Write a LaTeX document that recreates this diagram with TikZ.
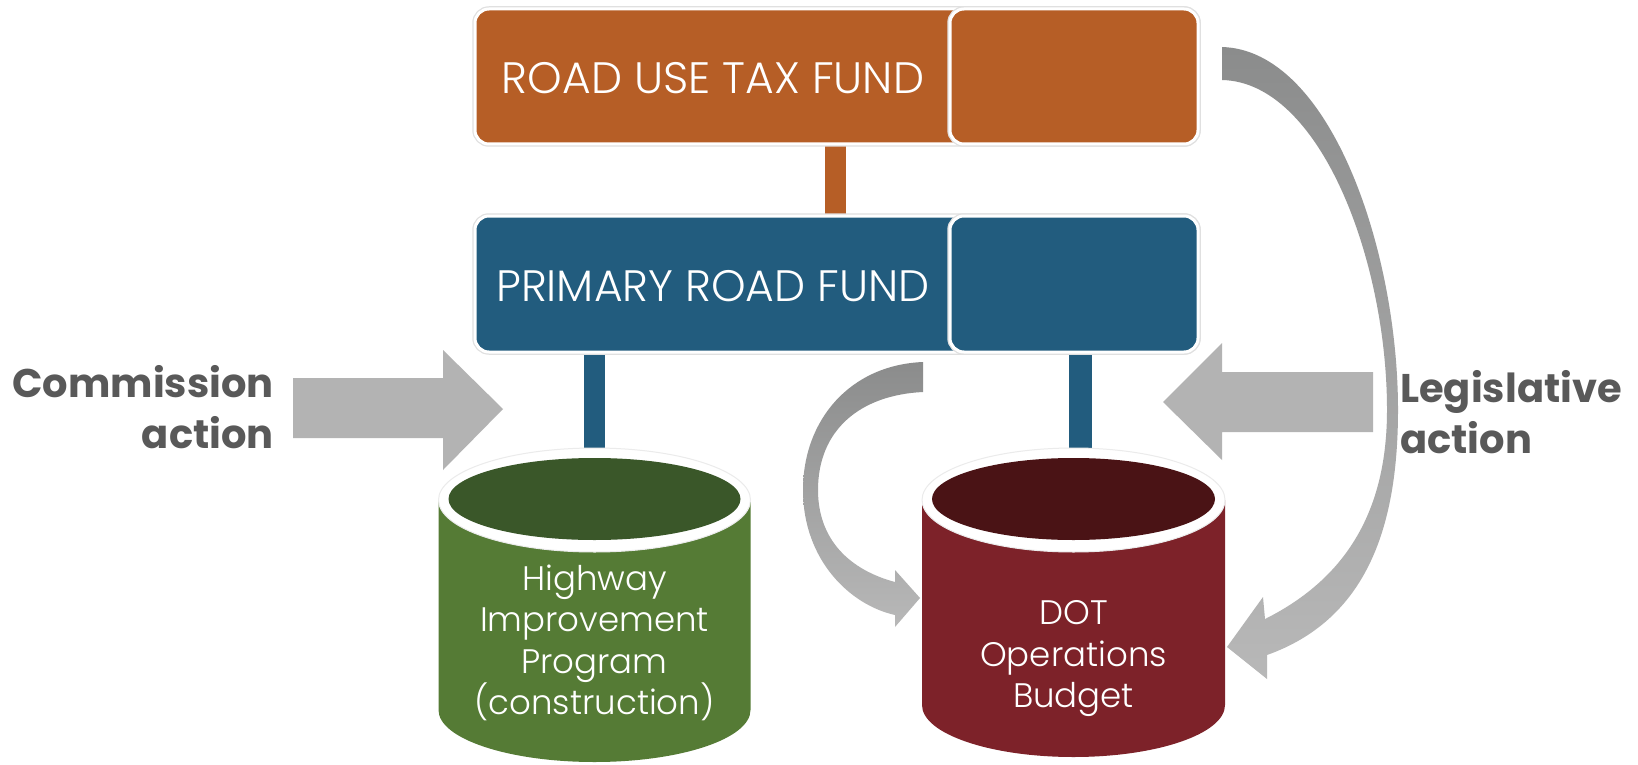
\documentclass[tikz,border=0pt]{standalone}
\usepackage{fontspec}
\setmainfont{Poppins}
\newfontfamily\lightfont{Poppins}[UprightFont=* Light]
\definecolor{rutOrange}{HTML}{B65E26}
\definecolor{prfBlue}{HTML}{225C7E}
\definecolor{hipGreen}{HTML}{557B35}
\definecolor{hipTopc}{HTML}{3A5729}
\definecolor{dotRed}{HTML}{7D2229}
\definecolor{dotTopc}{HTML}{4A1315}
\definecolor{arrGray}{HTML}{B3B3B3}
\definecolor{arrDark}{HTML}{8B8C8C}
\definecolor{arrLight}{HTML}{B8B8B8}
\definecolor{lblGray}{HTML}{595959}
\tikzset{
  fundbox/.style={rounded corners=14pt, draw=white, line width=3pt, inner sep=0pt,
    preaction={draw=black!12, line width=5.5pt}},
  boxtext/.style={text=white, font=\lightfont\fontsize{44}{50}\selectfont, inner sep=0pt},
  cyltext/.style={text=white, align=center, font=\lightfont\fontsize{34}{41.5}\selectfont, inner sep=0pt},
  lbl/.style={text=lblGray, font=\bfseries\fontsize{40}{50.5}\selectfont, inner sep=0pt},
  conn/.style={line width=21pt},
  blockarrow/.style={fill=arrGray},
  curvearrow/.style={top color=arrDark, bottom color=arrLight},
}
\begin{document}
\begin{tikzpicture}[x=1pt, y=-1pt]
\useasboundingbox (0,0) rectangle (1638,765);
\fill[white] (0,0) rectangle (1638,765);

% coordinates for connector positions
\coordinate (oc) at (835.5,0);
\coordinate (bl) at (594.5,0);
\coordinate (br) at (1080,0);
\coordinate (hipTop) at (594.5,450);
\coordinate (dotTop) at (1080,450);

% connectors (behind boxes)
\node[inner sep=0pt, minimum width=723pt, minimum height=135pt] (rutf) at (836.5,76.5) {};
\node[inner sep=0pt, minimum width=723pt, minimum height=136pt] (prf) at (836.5,284) {};
\draw[conn, rutOrange] (rutf.south -| oc) -- (prf.north -| oc);
\draw[conn, prfBlue] (prf.south -| bl) -- (hipTop);
\draw[conn, prfBlue, line width=23pt] (prf.south -| br) -- (dotTop);

% Road Use Tax Fund
\node[fundbox, fill=rutOrange, minimum width=723pt, minimum height=135pt] (rutbox) at (836.5,76.5) {};
\node[fundbox, fill=rutOrange, minimum width=248pt, minimum height=135pt] (rutr) at (1074,76.5) {};
\node[boxtext] (ruttxt) at (713,78) {ROAD USE TAX FUND};

% Primary Road Fund
\node[fundbox, fill=prfBlue, minimum width=723pt, minimum height=136pt] (prfbox) at (836.5,284) {};
\node[fundbox, fill=prfBlue, minimum width=248pt, minimum height=136pt] (prfr) at (1074,284) {};
\node[boxtext] (prftxt) at (713,286) {PRIMARY ROAD FUND};

% Highway Improvement Program cylinder
\fill[hipGreen] (438.5,500) -- (438.5,710) arc[start angle=180, end angle=360, x radius=156pt, y radius=52pt] -- (750.5,500) -- cycle;
\fill[white, draw=black!8, line width=1pt] (594.5,500) ellipse[x radius=156pt, y radius=52pt];
\fill[hipTopc] (594.5,499) ellipse[x radius=146pt, y radius=41pt];
\node[cyltext] (hip) at (594.5,643) {Highway\\Improvement\\Program\\(construction)};

% DOT Operations Budget cylinder
\fill[dotRed] (922,500) -- (922,705) arc[start angle=180, end angle=360, x radius=151.5pt, y radius=52pt] -- (1225,500) -- cycle;
\fill[white, draw=black!8, line width=1pt] (1073.5,500) ellipse[x radius=151.5pt, y radius=52pt];
\fill[dotTopc] (1073.5,499) ellipse[x radius=141.5pt, y radius=41pt];
\node[cyltext] (dot) at (1073.5,659) {DOT\\Operations\\Budget};

% Commission action
\node[lbl, anchor=east, align=right] (comm) at (274,407) {Commission\\action};
\fill[blockarrow] (293,378) -- (443,378) -- (443,350) -- (503,409) -- (443,470) -- (443,438) -- (293,438) -- cycle;

% Legislative action
\node[lbl, anchor=west, align=left] (legi) at (1400,412) {Legislative\\action};
\fill[blockarrow] (1373,372) -- (1222,372) -- (1222,343) -- (1163,402) -- (1222,460) -- (1222,432) -- (1373,432) -- cycle;

% large curved arrow from Road Use Tax Fund to DOT budget
\shade[curvearrow]
 (1222,47) .. controls (1330,50) and (1398,250) .. (1398,410)
 .. controls (1398,530) and (1365,620) .. (1267,655)
 -- (1267,679) -- (1227,647) -- (1263,597) -- (1265,619)
 .. controls (1347,578) and (1387,510) .. (1387,410)
 .. controls (1387,260) and (1320,82) .. (1222,80) -- cycle;

% small curved arrow from Primary Road Fund to DOT budget
\shade[curvearrow]
 (923,362) .. controls (850,365) and (803,420) .. (803,490)
 .. controls (803,560) and (850,605) .. (895,615)
 -- (895,627) -- (920,598) -- (895,570) -- (895,582)
 .. controls (850,570) and (818,540) .. (818,490)
 .. controls (818,430) and (860,395) .. (923,392) -- cycle;
\end{tikzpicture}
\end{document}
